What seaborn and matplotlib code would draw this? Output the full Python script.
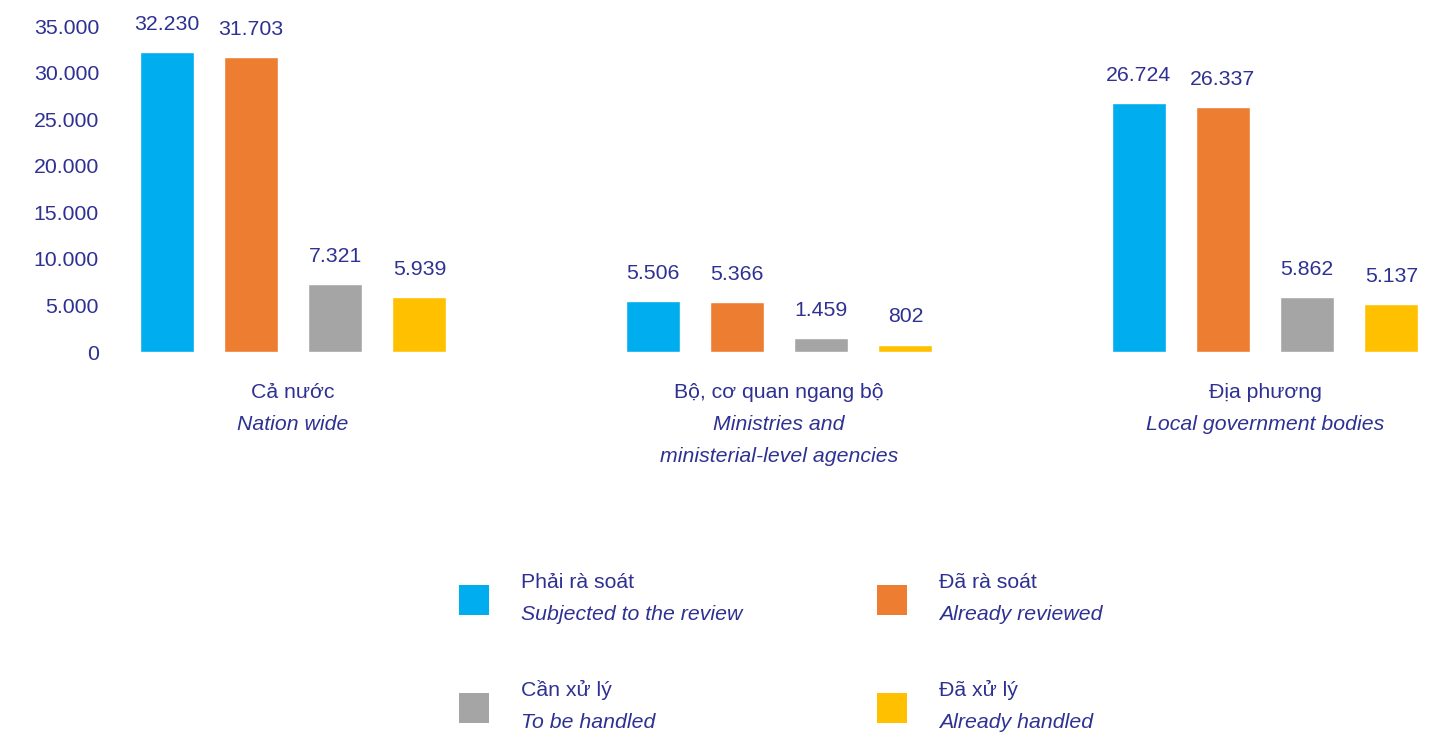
import numpy as np
import pandas as pd
import seaborn as sns
import matplotlib.pyplot as plt
from matplotlib.patches import Rectangle
from matplotlib.transforms import blended_transform_factory

# Groups (Vietnamese title + English subtitle)
groups_vi = ["Cả nước", "Bộ, cơ quan ngang bộ", "Địa phương"]
groups_en = ["Nation wide", "Ministries and\nministerial-level agencies", "Local government bodies"]

# Series names
series_vi = ["Phải rà soát", "Đã rà soát", "Cần xử lý", "Đã xử lý"]
series_en = ["Subjected to the review", "Already reviewed", "To be handled", "Already handled"]

# Values per group
subjected = [32230, 5506, 26724]
reviewed = [31703, 5366, 26337]
to_handle = [7321, 1459, 5862]
handled = [5939, 802, 5137]

y_ticks = [0, 5000, 10000, 15000, 20000, 25000, 30000, 35000]

colors = ["#00AEEF", "#ED7D31", "#A5A5A5", "#FFC000"]
text_color = "#2E3192"
fs = 15.3


def fmt(v):
    return f"{v:,}".replace(",", ".")


sns.set_theme(style="white")
plt.rcParams["font.family"] = ["Liberation Sans", "DejaVu Sans"]

rows = []
for name, vals in zip(series_vi, [subjected, reviewed, to_handle, handled]):
    for g, v in zip(groups_vi, vals):
        rows.append({"group": g, "series": name, "value": v})
df = pd.DataFrame(rows)

W, H = 1449, 732
fig = plt.figure(figsize=(W / 100, H / 100), dpi=100)

# axes placement in pixels: baseline at y=352, group centres at x=293 + 486*i
left_px, right_px = 110, 1449
base_px = 352
px_per_unit = 300 / 32230
top_px = base_px - 35000 * px_per_unit
ax = fig.add_axes([left_px / W, 1 - base_px / H, (right_px - left_px) / W, (base_px - top_px) / H])

sns.barplot(data=df, x="group", y="value", hue="series", order=groups_vi,
            hue_order=series_vi, palette=colors, saturation=1,
            width=0.694, gap=0.36, legend=False, ax=ax)

ax.set_xlim((left_px - 293) / 486, (right_px - 293) / 486)
ax.set_ylim(0, 35000)
ax.set_yticks(y_ticks)
ax.set_yticklabels([fmt(t) for t in y_ticks])
ax.tick_params(axis="y", length=0, pad=8, labelsize=fs, labelcolor=text_color)
ax.set_xticks([])
ax.set_xlabel("")
ax.set_ylabel("")
for s in ax.spines.values():
    s.set_visible(False)

# value labels above each bar
for cont, vals in zip(ax.containers, [subjected, reviewed, to_handle, handled]):
    ax.bar_label(cont, labels=[fmt(v) for v in vals], padding=13,
                 fontsize=fs, color=text_color, clip_on=False)

# group captions under the bars
tr = blended_transform_factory(ax.transData, fig.transFigure)
for i, (vi, en) in enumerate(zip(groups_vi, groups_en)):
    ax.text(i, 1 - 392 / H, vi, transform=tr, ha="center", va="center",
            fontsize=fs, color=text_color)
    for k, line in enumerate(en.split("\n")):
        ax.text(i, 1 - (424 + 32 * k) / H, line, transform=tr, ha="center",
                va="center", fontsize=fs, color=text_color, style="italic")

# legend: two columns, two rows
legend_pos = [(459, 585), (877, 585), (459, 693), (877, 693)]
for (x0, y0), c, vi, en in zip(legend_pos, colors, series_vi, series_en):
    fig.add_artist(Rectangle((x0 / W, 1 - (y0 + 30) / H), 30 / W, 30 / H,
                             transform=fig.transFigure, color=c, lw=0))
    fig.text((x0 + 62) / W, 1 - (y0 - 3) / H, vi, ha="left", va="center",
             fontsize=fs, color=text_color)
    fig.text((x0 + 62) / W, 1 - (y0 + 29) / H, en, ha="left", va="center",
             fontsize=fs, color=text_color, style="italic")

fig.savefig("out.png", dpi=100)
